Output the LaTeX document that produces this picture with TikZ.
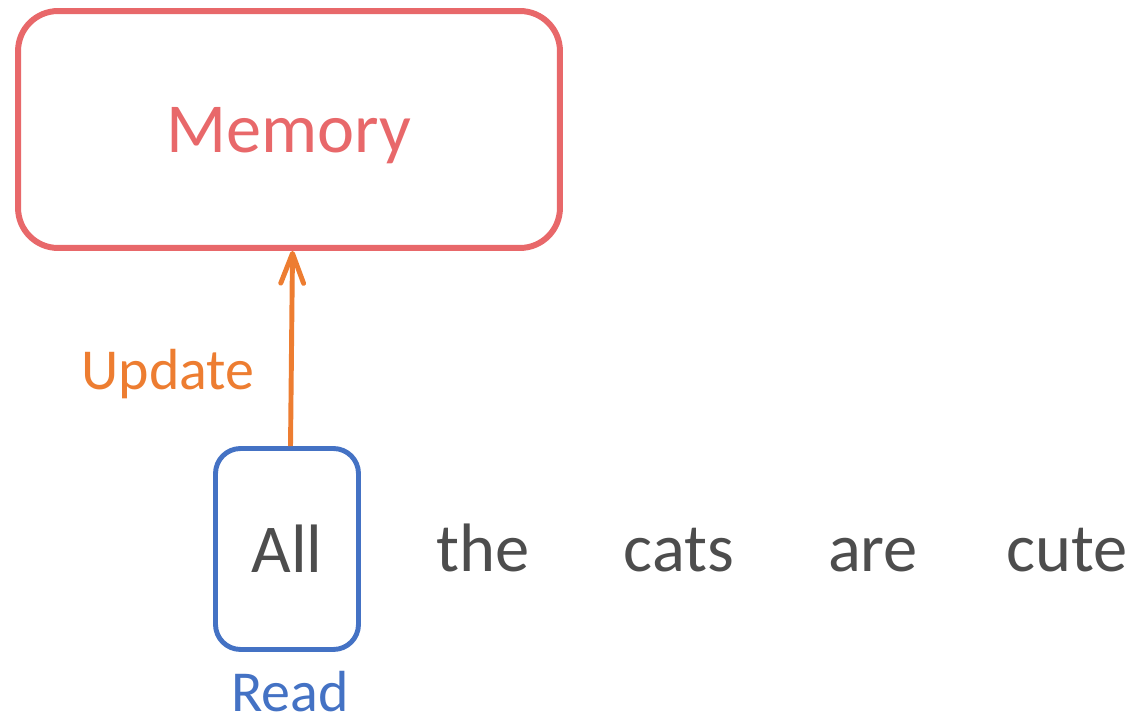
\documentclass[tikz,border=0pt]{standalone}
\usepackage{fontspec}
\setmainfont{Carlito}
\usetikzlibrary{%
  arrows.meta,positioning}
\definecolor{memred}{HTML}{E8686A}
\definecolor{updorange}{HTML}{ED7D31}
\definecolor{readblue}{HTML}{4472C4}
\definecolor{wordgray}{HTML}{4D4D4D}
\tikzset {>=Stealth,
  word/.style={anchor=base,text=wordgray,font=\fontsize{39}{44}\selectfont},
  tag/.style={anchor=base,inner sep=0pt,font=\fontsize{33}{38}\selectfont}}

\begin{document}
\begin{tikzpicture}[x=0.02cm,y=-0.02cm]
\useasboundingbox (0,0) rectangle (1137,719);
\node[draw=memred,line width=3.4pt,rounded corners=0.8cm,
  text=memred,text depth=0pt,font=\fontsize{40}{45}\selectfont]
  (mem) [minimum width=10.84cm,minimum height=4.74cm]
  at (289,129.5) {Memory};
\node[draw=readblue,line width=2.8pt,rounded corners=0.5cm,
  text=wordgray,font=\fontsize{39}{44}\selectfont]
  (all) [minimum width=2.86cm,minimum height=4.02cm]
  at (287,549) {All};
\node[word] (the) at (483,572) {the};
\node[word] (cats) at (679,572) {cats};
\node[word] (are) at (873,572) {are};
\node[word] (cute) at (1067,572) {cute};
\draw[->,updorange,line width=2.8pt,
  arrows={-Straight Barb[length=17pt,width=13pt,line cap=round,line join=round]}]
  ([xshift=2pt]all.north) -- ([xshift=2pt]mem.south);
\node[tag,text=updorange] (upd) at (168,390) {Update};
\node[tag,text=readblue] (read) at (290,711) {Read};
\end{tikzpicture}
\end{document}
